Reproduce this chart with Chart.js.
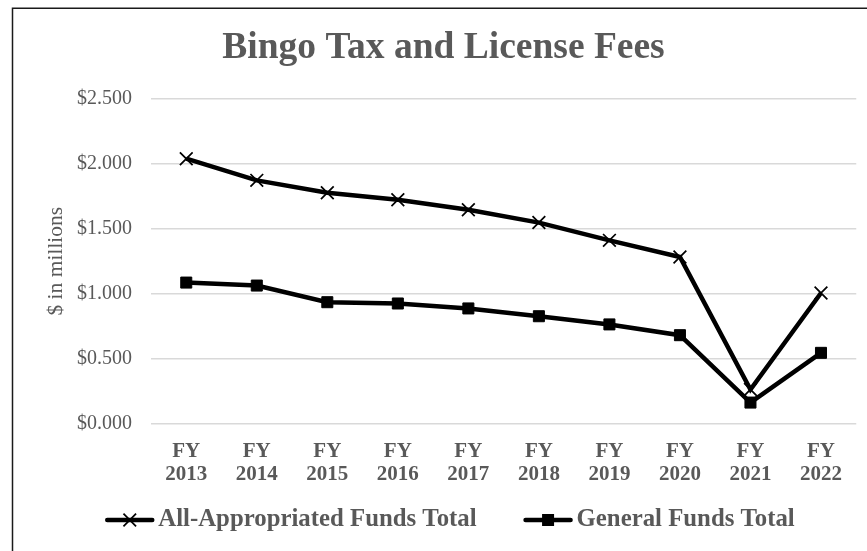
<!DOCTYPE html>
<html>
<head>
<meta charset="utf-8">
<script src="https://cdn.jsdelivr.net/npm/chart.js@4.4.1/dist/chart.umd.min.js"></script>
<style>
  html, body { margin: 0; padding: 0; background: #ffffff; }
  #wrap { position: relative; width: 867px; height: 551px; }
</style>
</head>
<body>
<div id="wrap"><canvas id="c" width="867" height="551"></canvas></div>
<script>
const chartTitle = 'Bingo Tax and License Fees';
const yAxisTitle = '$ in millions';
const fiscalYears = ['2013', '2014', '2015', '2016', '2017', '2018', '2019', '2020', '2021', '2022'];
const xTickLabels = fiscalYears.map(y => ['FY', y]);
const seriesNames = ['All-Appropriated Funds Total', 'General Funds Total'];
const allAppropriatedFunds = [2.039, 1.872, 1.777, 1.723, 1.646, 1.547, 1.410, 1.282, 0.261, 1.005];
const generalFunds = [1.085, 1.062, 0.934, 0.924, 0.886, 0.826, 0.763, 0.680, 0.161, 0.544];
const yTickValues = [0, 0.5, 1.0, 1.5, 2.0, 2.5];

const GRAY = '#595959';
const SERIF = '"Liberation Serif", "Times New Roman", serif';

// frame + custom legend (line with marker, then text)
const framePlugin = {
  id: 'frame',
  beforeDraw(chart) {
    const ctx = chart.ctx;
    ctx.save();
    ctx.strokeStyle = '#1a1a1a';
    ctx.lineWidth = 1.5;
    ctx.beginPath();
    ctx.moveTo(12.5, chart.height + 5);
    ctx.lineTo(12.5, 8.25);
    ctx.lineTo(chart.width + 5, 8.25);
    ctx.stroke();
    ctx.restore();
  }
};

const legendPlugin = {
  id: 'lineLegend',
  afterDraw(chart) {
    const ctx = chart.ctx;
    const sets = chart.data.datasets;
    ctx.save();
    ctx.font = 'bold 24.8px ' + SERIF;
    ctx.textBaseline = 'middle';
    ctx.textAlign = 'left';
    const lineLen = 49, gapText = 4, gapItem = 47;
    const widths = sets.map(d => ctx.measureText(d.label).width);
    let total = 0;
    widths.forEach((w, i) => { total += lineLen + gapText + w + (i < widths.length - 1 ? gapItem : 0); });
    let x = 450 - total / 2;
    const y = 520;
    sets.forEach((d, i) => {
      ctx.strokeStyle = '#000';
      ctx.lineWidth = 4.5;
      ctx.lineCap = 'round';
      ctx.beginPath();
      ctx.moveTo(x + 2, y);
      ctx.lineTo(x + lineLen - 2, y);
      ctx.stroke();
      const cx = x + lineLen / 2;
      ctx.lineCap = 'butt';
      if (d.pointStyle === 'crossRot') {
        const s = 6.3;
        ctx.lineWidth = 1.75;
        ctx.beginPath();
        ctx.moveTo(cx - s, y - s); ctx.lineTo(cx + s, y + s);
        ctx.moveTo(cx - s, y + s); ctx.lineTo(cx + s, y - s);
        ctx.stroke();
      } else {
        ctx.fillStyle = '#000';
        ctx.fillRect(cx - 6, y - 6, 12, 12);
      }
      ctx.fillStyle = GRAY;
      ctx.fillText(d.label, x + lineLen + gapText, y);
      x += lineLen + gapText + widths[i] + gapItem;
    });
    ctx.restore();
  }
};

new Chart(document.getElementById('c'), {
  type: 'line',
  data: {
    labels: xTickLabels,
    datasets: [
      {
        label: seriesNames[0],
        data: allAppropriatedFunds,
        borderColor: '#000000',
        backgroundColor: '#000000',
        borderWidth: 4.5,
        pointStyle: 'crossRot',
        pointRadius: 9,
        pointBorderWidth: 1.75,
        pointBorderColor: '#000000',
        pointBackgroundColor: '#000000',
        tension: 0,
        fill: false
      },
      {
        label: seriesNames[1],
        data: generalFunds,
        borderColor: '#000000',
        backgroundColor: '#000000',
        borderWidth: 4.5,
        pointStyle: 'rect',
        pointRadius: 7.8,
        pointBorderWidth: 1,
        pointBorderColor: '#000000',
        pointBackgroundColor: '#000000',
        tension: 0,
        fill: false
      }
    ]
  },
  options: {
    responsive: false,
    animation: false,
    devicePixelRatio: 1,
    layout: { padding: { top: 10, left: 30, right: 10, bottom: 55.5 } },
    plugins: {
      legend: { display: false },
      tooltip: { enabled: false },
      title: {
        display: true,
        text: chartTitle,
        color: GRAY,
        font: { family: SERIF, size: 37.5, weight: 'bold', lineHeight: 1.2 },
        padding: { top: 16.1, bottom: 27.7 }
      }
    },
    scales: {
      x: {
        offset: true,
        grid: { display: false, drawTicks: false },
        border: { display: false },
        ticks: {
          color: GRAY,
          font: { family: SERIF, size: 21, weight: 'bold', lineHeight: 1.07 },
          padding: 17,
          maxRotation: 0,
          autoSkip: false
        },
        afterFit(scale) { scale.height = 72; }
      },
      y: {
        min: 0,
        max: 2.5,
        afterBuildTicks(scale) { scale.ticks = yTickValues.map(v => ({ value: v })); },
        grid: { color: '#d9d9d9', lineWidth: 1.5, drawTicks: false },
        border: { display: false },
        ticks: {
          color: GRAY,
          font: { family: SERIF, size: 20 },
          padding: 19,
          callback: v => '$' + Number(v).toFixed(3)
        },
        title: {
          display: true,
          text: yAxisTitle,
          color: GRAY,
          font: { family: SERIF, size: 21.5, lineHeight: 1.2 },
          padding: { top: 13, bottom: 0 }
        },
        afterFit(scale) { scale.width = 121; }
      }
    }
  },
  plugins: [framePlugin, legendPlugin]
});
</script>
</body>
</html>
